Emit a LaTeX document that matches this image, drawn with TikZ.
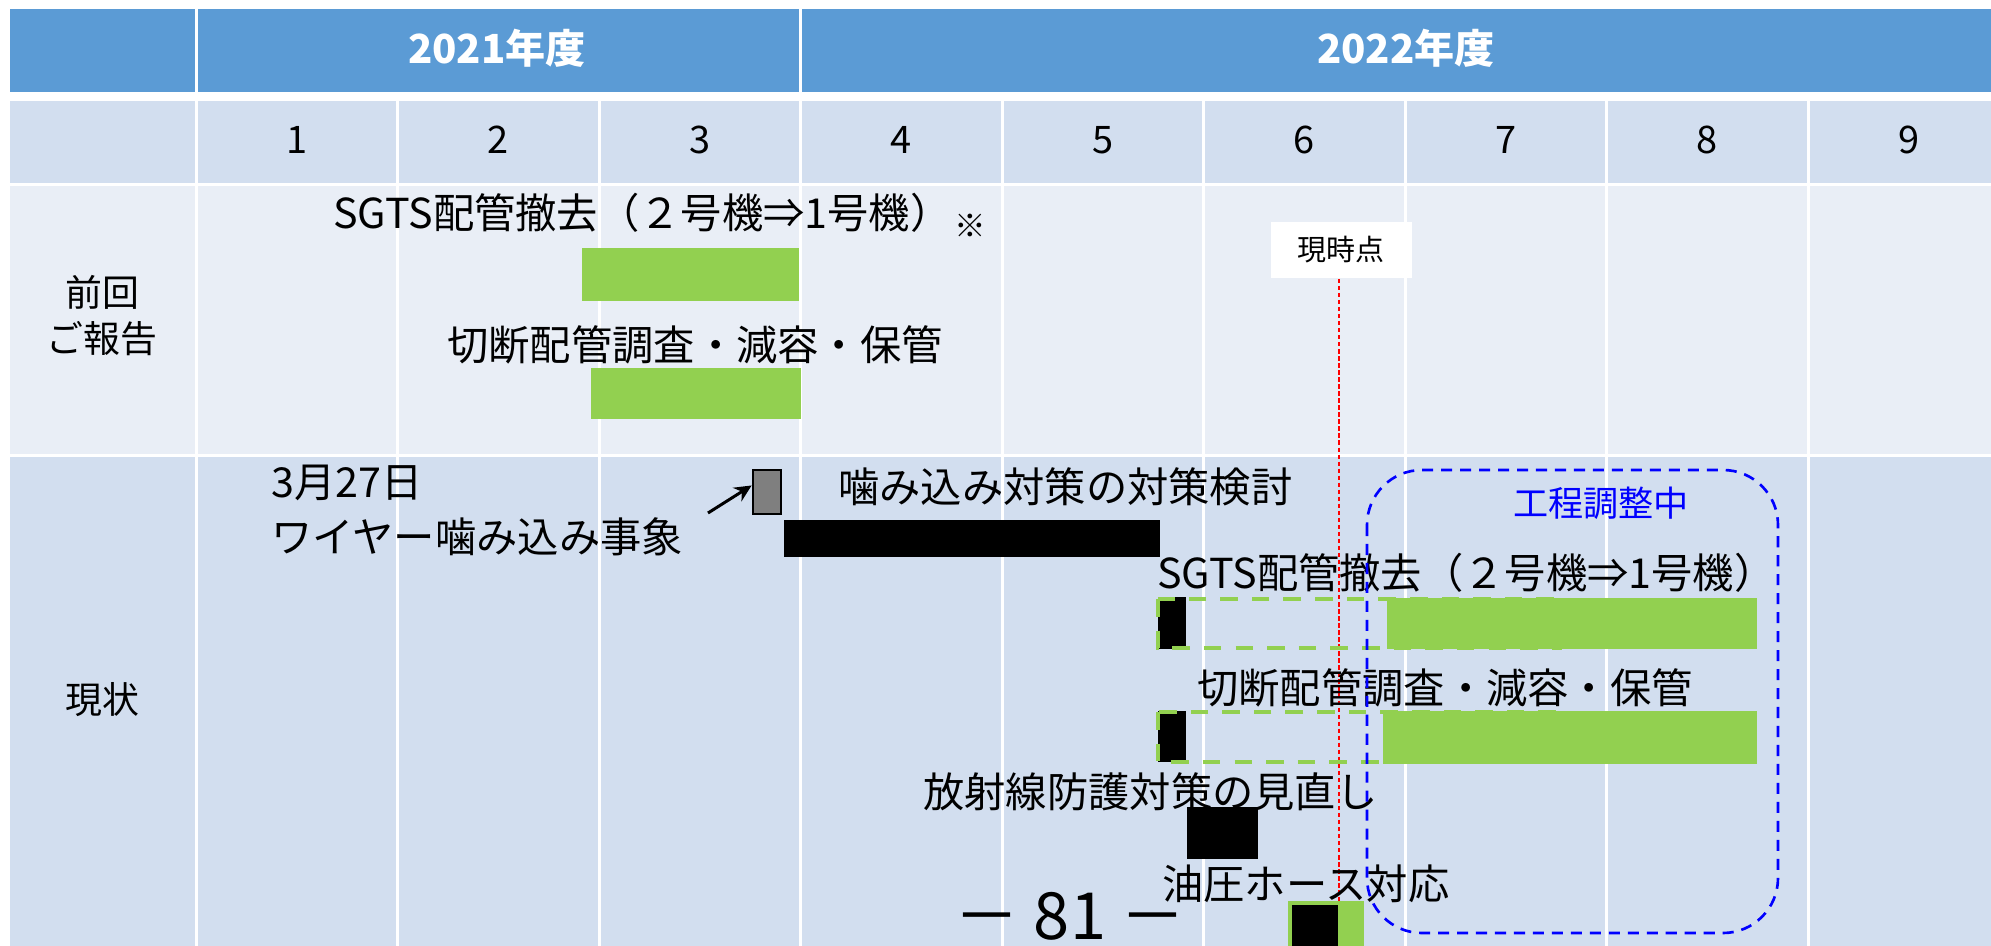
\documentclass[tikz,border=0pt]{standalone}
\usepackage{fontspec}
\setmainfont{Noto Sans CJK JP}
\usetikzlibrary{positioning, arrows.meta}

\definecolor{headblue}{HTML}{5B9BD5}
\definecolor{rowdark}{HTML}{D2DEEF}
\definecolor{rowlight}{HTML}{E9EEF6}
\definecolor{barfill}{HTML}{92D050}
\definecolor{markgray}{HTML}{7F7F7F}

\tikzset{
  > = {Stealth[length = 3.4mm, width = 3.2mm]},
  gridline/.style = {white, line width = 0.06cm},
  yearlabel/.style = {text = white, font = \fontsize{22.8}{26}\selectfont\bfseries},
  monthlabel/.style = {font = \fontsize{21.6}{26}\selectfont},
  rowlabel/.style = {align = center, font = \fontsize{21}{26.2}\selectfont},
  task/.style = {anchor = west, inner sep = 0pt, font = \fontsize{23.5}{28}\selectfont},
  donebar/.style = {fill = barfill},
  workbar/.style = {fill = black},
  planbox/.style = {draw = barfill, dash pattern = on 10pt off 8pt, line width = 2.5pt},
  incident/.style = {draw, fill = markgray, line width = 1.6pt, inner sep = 0pt,
    minimum width = 0.56cm, minimum height = 0.88cm},
  pointer/.style = {->, line width = 1.7pt},
  nowbox/.style = {fill = white, minimum width = 2.82cm, minimum height = 1.14cm,
    font = \fontsize{16.5}{20}\selectfont},
  nowline/.style = {red, line width = 0.8pt, dash pattern = on 2.5pt off 1.5pt},
  pending/.style = {draw = blue, line width = 1.5pt, dash pattern = on 6.3pt off 4.5pt,
    rounded corners = 1.1cm},
  pagenum/.style = {font = \fontsize{37}{40}\selectfont}
}

\begin{document}
\begin{tikzpicture}[x = 0.02cm, y = -0.02cm]
\useasboundingbox (0,0) rectangle (1991,946);
\clip (0,0) rectangle (1991,946);

%% Table
\fill [headblue] (10,9) rectangle (1991,92);
\fill [rowdark] (10,101) rectangle (1991,183);
\fill [rowlight] (10,186) rectangle (1991,454);
\fill [rowdark] (10,457) rectangle (1991,946);
\foreach \k in {0,3}
  \draw [gridline] ({196 + 201.5*\k},9) -- ({196 + 201.5*\k},92);
\foreach \k in {0,...,8}
  \draw [gridline] ({196 + 201.5*\k},101) -- ({196 + 201.5*\k},946);

%% Header
\node [yearlabel] (fy21) at (497,48) {2021年度};
\node [yearlabel] (fy22) at (1406,48) {2022年度};
\foreach \m in {1,...,9}
  \node [monthlabel] (m\m) at ({196 + 201.5*(\m - 0.5)},140) {\m};

%% Row labels
\node [rowlabel] (prev) at (102,316) {前回\\ご報告};
\node [rowlabel] (curr) at (102,700) {現状};

%% Previous report
\node [task] (oldpipe) at (333,213) {SGTS配管撤去（２号機⇒1号機）};
\node [anchor = west, inner sep = 0pt, font = \fontsize{18}{20}\selectfont] (note) at (954,226) {※};
\fill [donebar] (582,248) rectangle (799,301);
\node [task] (oldcut) at (447,345) {切断配管調査・減容・保管};
\fill [donebar] (591,368) rectangle (801,419);

%% Current point
\node [nowbox] (now) at (1341,250) {現時点};
\coordinate (nowend) at (1339,946);
\draw [nowline] (now.south -| nowend) -- (nowend);

%% Current status
\node [task] (date) at (271,483) {3月27日};
\node [task] (wire) at (271,537) {ワイヤー噛み込み事象};
\node [incident] (jam) at (767,492) {};
\coordinate (tail) at (708,513);
\draw [pointer] (tail) -- (jam.157);

\node [task] (study) at (838,487) {噛み込み対策の対策検討};
\fill [workbar] (784,520) rectangle (1160,557);

\node [task] (newpipe) at (1157,573) {SGTS配管撤去（２号機⇒1号機）};
\fill [workbar] (1158,597) rectangle (1186,649);
\draw [planbox] (1158,599) rectangle (1560,648);
\fill [donebar] (1387,598) rectangle (1757,649);

\node [task] (newcut) at (1197,688) {切断配管調査・減容・保管};
\fill [workbar] (1158,711) rectangle (1186,762);
\draw [planbox] (1158,712) rectangle (1560,762);
\fill [donebar] (1383,711) rectangle (1757,764);

\node [task] (shield) at (923,792) {放射線防護対策の見直し};
\fill [workbar] (1187,807) rectangle (1258,859);

\node [task] (hose) at (1162,884) {油圧ホース対応};
\filldraw [donebar, draw = barfill, line width = 1pt] (1289,902) rectangle (1363,950);
\fill [workbar] (1292,905) rectangle (1338,950);

%% Pending
\draw [pending] (1367,470) rectangle (1778,933);
\node [text = blue, font = \fontsize{20}{24}\selectfont] (adjust) at (1601,503) {工程調整中};

%% Page
\node [pagenum] (page) at (1070,916) {－ 81 －};

\end{tikzpicture}
\end{document}
